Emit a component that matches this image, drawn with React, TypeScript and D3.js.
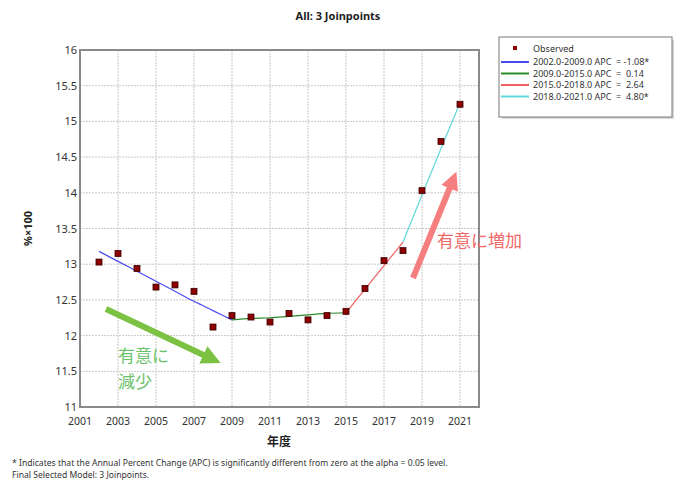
import * as d3 from 'd3';

const years = [2002, 2003, 2004, 2005, 2006, 2007, 2008, 2009, 2010, 2011, 2012, 2013, 2014, 2015, 2016, 2017, 2018, 2019, 2020, 2021];
const observed = [13.03, 13.15, 12.94, 12.68, 12.71, 12.62, 12.12, 12.28, 12.26, 12.19, 12.31, 12.22, 12.28, 12.34, 12.66, 13.05, 13.19, 14.03, 14.72, 15.24];

// fitted joinpoint segments
const seg1Years = [2002, 2003, 2004, 2005, 2006, 2007, 2008, 2009];
const seg1Values = [13.18, 13.04, 12.9, 12.76, 12.62, 12.48, 12.35, 12.22];
const seg2Years = [2009, 2010, 2011, 2012, 2013, 2014, 2015];
const seg2Values = [12.22, 12.24, 12.25, 12.27, 12.29, 12.31, 12.32];
const seg3Years = [2015, 2016, 2017, 2018];
const seg3Values = [12.32, 12.65, 12.98, 13.31];
const seg4Years = [2018, 2019, 2020, 2021];
const seg4Values = [13.31, 13.97, 14.62, 15.26];

const legendLabels = ['2002.0-2009.0 APC  = -1.08*', '2009.0-2015.0 APC  =  0.14', '2015.0-2018.0 APC  =  2.64', '2018.0-2021.0 APC  =  4.80*'];
const segColors = ['#4a4af0', '#2a8a2a', '#f06060', '#60d8d8'];

const xTicks = [2001, 2003, 2005, 2007, 2009, 2011, 2013, 2015, 2017, 2019, 2021];
const yTicks = [11, 11.5, 12, 12.5, 13, 13.5, 14, 14.5, 15, 15.5, 16];
const xGrid = [2003, 2005, 2007, 2009, 2011, 2013, 2015, 2017, 2019, 2021];

const W = 681;
const H = 484;
const margin = { left: 80, top: 50, right: 202, bottom: 77 };

export default function App() {
  const x = d3.scaleLinear().domain([2001, 2022]).range([margin.left, W - margin.right]);
  const y = d3.scaleLinear().domain([11, 16]).range([H - margin.bottom, margin.top]);

  const line = d3
    .line<[number, number]>()
    .x((d) => x(d[0]))
    .y((d) => y(d[1]))
    .curve(d3.curveMonotoneX);

  const segments = [
    seg1Years.map((yr, i) => [yr, seg1Values[i]] as [number, number]),
    seg2Years.map((yr, i) => [yr, seg2Values[i]] as [number, number]),
    seg3Years.map((yr, i) => [yr, seg3Values[i]] as [number, number]),
    seg4Years.map((yr, i) => [yr, seg4Values[i]] as [number, number]),
  ];

  const font = "'Noto Sans', 'DejaVu Sans', sans-serif";
  const jp = "'Noto Sans CJK JP', sans-serif";
  const x0 = margin.left;
  const x1 = W - margin.right;
  const y0 = margin.top;
  const y1 = H - margin.bottom;

  return (
    <svg width={W} height={H} style={{ position: 'absolute', left: 0, top: 0, background: '#fff' }}>
      <defs>
        <marker id="gArrow" viewBox="0 0 10 10" refX="5" refY="5" markerWidth="3.2" markerHeight="3.2" orient="auto">
          <path d="M0,0 L10,5 L0,10 z" fill="#7cc242" />
        </marker>
        <marker id="rArrow" viewBox="0 0 10 10" refX="5" refY="5" markerWidth="3" markerHeight="3" orient="auto">
          <path d="M0,0 L10,5 L0,10 z" fill="#f57f7f" />
        </marker>
      </defs>

      <text x={338} y={20} textAnchor="middle" fontFamily={font} fontWeight="bold" fontSize={11} fill="#222">
        All: 3 Joinpoints
      </text>

      {/* grid */}
      {xGrid.map((t) => (
        <line key={'gx' + t} x1={x(t)} x2={x(t)} y1={y0} y2={y1} stroke="#c8c8c8" strokeDasharray="2,1" />
      ))}
      {yTicks.slice(1, -1).map((t) => (
        <line key={'gy' + t} x1={x0} x2={x1} y1={y(t)} y2={y(t)} stroke="#c8c8c8" strokeDasharray="2,1" />
      ))}
      <rect x={x0} y={y0} width={x1 - x0} height={y1 - y0} fill="none" stroke="#8a8a8a" strokeWidth={2} />

      {/* ticks */}
      {yTicks.map((t) => (
        <text key={'ty' + t} x={x0 - 3} y={y(t) + 4} textAnchor="end" fontFamily={font} fontSize={11} fill="#333">
          {t}
        </text>
      ))}
      {xTicks.map((t) => (
        <text key={'tx' + t} x={x(t)} y={y1 + 18} textAnchor="middle" fontFamily={font} fontSize={10.5} fill="#333">
          {t}
        </text>
      ))}

      <text x={279} y={446} textAnchor="middle" fontFamily={jp} fontWeight="bold" fontSize={12} fill="#222">
        年度
      </text>
      <text transform={`translate(32,${(y0 + y1) / 2}) rotate(-90)`} textAnchor="middle" fontFamily={font} fontWeight="bold" fontSize={11} fill="#222">
        %×100
      </text>

      {/* fitted segments */}
      {segments.map((s, i) => (
        <path key={'s' + i} d={line(s) || ''} fill="none" stroke={segColors[i]} strokeWidth={1.2} />
      ))}

      {/* observed */}
      {years.map((yr, i) => (
        <rect key={'p' + yr} x={x(yr) - 3} y={y(observed[i]) - 3} width={6} height={6} fill="#8b0000" stroke="#3a0000" strokeWidth={0.8} />
      ))}

      {/* annotations */}
      <line x1={106} y1={309} x2={212} y2={359} stroke="#7cc242" strokeWidth={6} markerEnd="url(#gArrow)" />
      <text x={118} y={362} fontFamily={jp} fontSize={17} fill="#6cc26c">有意に</text>
      <text x={118} y={388} fontFamily={jp} fontSize={17} fill="#6cc26c">減少</text>

      <line x1={413} y1={278} x2={453} y2={180} stroke="#f57f7f" strokeWidth={6} markerEnd="url(#rArrow)" />
      <text x={437} y={247} fontFamily={jp} fontSize={17} fill="#f06868">有意に増加</text>

      {/* legend */}
      <rect x={502} y={40} width={172} height={79} fill="#d8d8d8" />
      <rect x={499} y={37} width={173} height={80} fill="#fff" stroke="#777" strokeWidth={1} />
      <rect x={513} y={46} width={4} height={4} fill="#8b0000" />
      <text x={533} y={51.5} fontFamily={font} fontSize={9} fill="#333">Observed</text>
      {legendLabels.map((lab, i) => (
        <g key={'lg' + i}>
          <line x1={501} x2={529} y1={62 + i * 11.5} y2={62 + i * 11.5} stroke={segColors[i]} strokeWidth={2} />
          <text x={533} y={65 + i * 11.5} fontFamily={font} fontSize={9} fill="#333" style={{ whiteSpace: 'pre' }}>
            {lab}
          </text>
        </g>
      ))}

      {/* footnote */}
      <text x={12} y={466} fontFamily={font} fontSize={8.6} fill="#333">
        * Indicates that the Annual Percent Change (APC) is significantly different from zero at the alpha = 0.05 level.
      </text>
      <text x={12} y={478} fontFamily={font} fontSize={8.6} fill="#333">
        Final Selected Model: 3 Joinpoints.
      </text>
    </svg>
  );
}
